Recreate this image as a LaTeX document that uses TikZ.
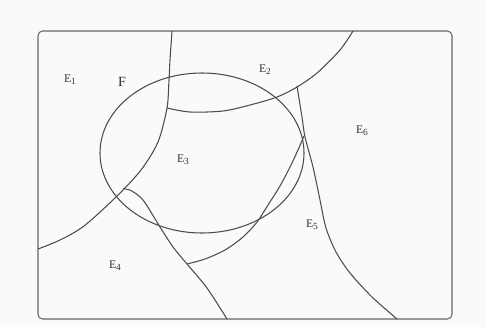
\documentclass[tikz,border=0pt]{standalone}
\usepackage{fontspec}
\setmainfont{Liberation Serif}
\newcommand{\reg}[1]{E\raisebox{-0.35ex}{\footnotesize #1}}
\begin{document}
\begin{tikzpicture}[
  x=0.03cm, y=-0.03cm,
  region/.style={font=\normalsize, text=black!80, inner sep=1pt},
  curve/.style={draw=black!70, line width=0.9pt},
  frame/.style={draw=black!60, line width=0.9pt, rounded corners=4}
]
\useasboundingbox[fill=black!2] (0,0) rectangle (487,327);

% Frame
\draw[frame] (38,31) rectangle (452,319);

% Ellipse F
\draw[curve] (202,153) ellipse [x radius=102, y radius=80];

% Boundaries
\draw[curve] plot[smooth] coordinates {(172,31) (170,60) (169,80) (167,108) (158,142) (141,170) (116,197) (84,226) (60,240) (38,249)};
\draw[curve] plot[smooth] coordinates {(167,108) (190,112) (223,111) (250,105) (277,97) (297,87) (317,73) (340,50) (353,31)};
\draw[curve] plot[smooth] coordinates {(297,86) (302,117) (305,137) (313,167) (320,200) (326,228) (336,252) (350,273) (372,297) (397,319)};
\draw[curve] plot[smooth] coordinates {(304,136) (298,150) (290,167) (280,186) (268,205) (257,222) (243,237) (225,250) (205,259) (187,264)};
\draw[curve] plot[smooth] coordinates {(123,189) (130,190) (143,200) (160,227) (173,247) (187,264) (207,288) (227,319)};

% Labels
\node[region] (e1) at (70,80) {\reg{1}};
\node[region, font=\large] (f) at (122,82) {F};
\node[region] (e2) at (265,70) {\reg{2}};
\node[region] (e3) at (183,160) {\reg{3}};
\node[region] (e6) at (362,131) {\reg{6}};
\node[region] (e5) at (312,225) {\reg{5}};
\node[region] (e4) at (115,266) {\reg{4}};
\end{tikzpicture}
\end{document}
